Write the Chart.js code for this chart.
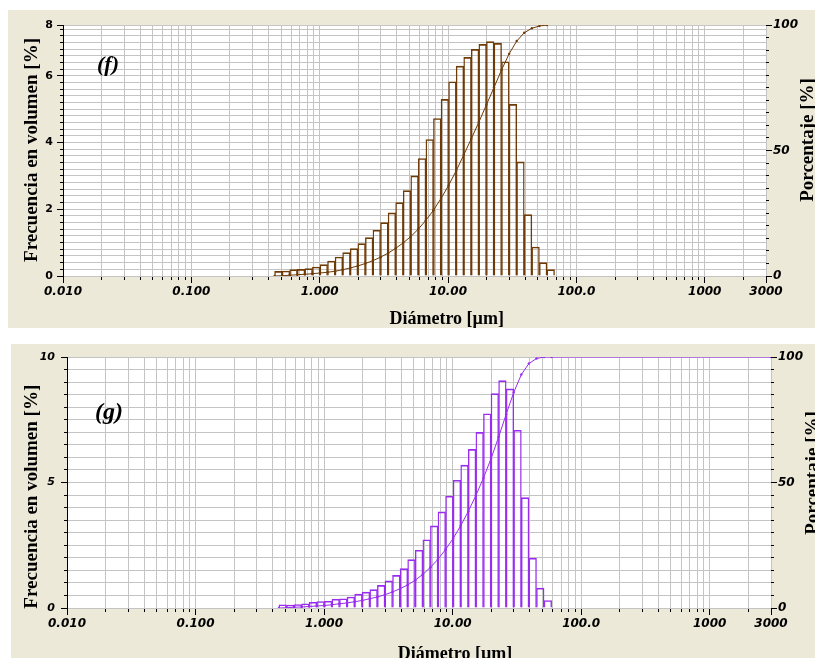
<!DOCTYPE html>
<html>
<head>
<meta charset="utf-8">
<script src="https://cdn.jsdelivr.net/npm/chart.js@4.4.1/dist/chart.umd.min.js"></script>
<style>
  html, body { margin: 0; padding: 0; background: #fff; }
  body { width: 815px; height: 658px; position: relative; overflow: hidden; }
  canvas { position: absolute; background: #ECE9D8; }
  #chartF { left: 8px; top: 10px; }
  #chartG { left: 11px; top: 344px; }
</style>
</head>
<body>
<canvas id="chartF" width="807" height="318"></canvas>
<canvas id="chartG" width="804" height="314"></canvas>
<script>
// bordes de canal (µm) - cada barra va de un borde al siguiente
const channelEdges = [0.445, 0.510, 0.584, 0.669, 0.766, 0.877, 1.005, 1.151, 1.318, 1.510,
    1.729, 1.981, 2.269, 2.599, 2.976, 3.409, 3.905, 4.472, 5.122, 5.867, 6.720, 7.697,
    8.816, 10.097, 11.565, 13.246, 15.172, 17.377, 19.904, 22.797, 26.111, 29.907, 34.255,
    39.234, 44.938, 51.471, 58.953, 67.523];

// (f) frecuencia en volumen [%]
const freqF = [0.14, 0.15, 0.19, 0.20, 0.22, 0.27, 0.34, 0.45, 0.57, 0.70, 0.82, 0.97, 1.15,
    1.37, 1.60, 1.89, 2.20, 2.56, 3.00, 3.52, 4.09, 4.72, 5.29, 5.82, 6.29, 6.55, 6.79, 6.94,
    7.02, 6.97, 6.42, 5.14, 3.42, 1.84, 0.87, 0.40, 0.19];
// (f) porcentaje acumulado [%] en cada borde
const cumF = [0, 0.1, 0.3, 0.5, 0.7, 0.9, 1.2, 1.5, 1.9, 2.5, 3.2, 4.0, 5.0, 6.1, 7.5, 9.1,
    11.0, 13.2, 15.7, 18.7, 22.2, 26.2, 30.9, 36.1, 41.9, 48.2, 54.7, 61.3, 68.2, 75.1, 82.1,
    88.5, 93.6, 96.9, 98.7, 99.6, 100];

// (g)
const freqG = [0.13, 0.12, 0.14, 0.17, 0.23, 0.26, 0.27, 0.35, 0.37, 0.44, 0.55, 0.63, 0.73,
    0.90, 1.08, 1.30, 1.57, 1.93, 2.30, 2.72, 3.27, 3.83, 4.46, 5.09, 5.69, 6.32, 7.00, 7.74,
    8.54, 9.06, 8.73, 7.08, 4.40, 1.99, 0.79, 0.30];
const cumG = [0, 0.1, 0.3, 0.4, 0.6, 0.8, 1.0, 1.3, 1.7, 2.0, 2.5, 3.0, 3.7, 4.4, 5.3, 6.4,
    7.7, 9.2, 11.1, 13.4, 16.2, 19.4, 23.3, 27.7, 32.8, 38.5, 44.8, 51.8, 59.5, 68.1, 77.2,
    85.9, 93.0, 97.4, 99.4, 100, 100];
// (g) the curve stays at 100 until the end of the axis
const cumGEndSize = 3000;
const cumGEndValue = 100;

const xTickValues = [0.01, 0.1, 1, 10, 100, 1000, 3000];
const xTickLabels = ['0.010', '0.100', '1.000', '10.00', '100.0', '1000', '3000'];
const yTickValuesF = [0, 2, 4, 6, 7.52];
const yTickLabelsF = ['0', '2', '4', '6', '8'];
const yTickValuesG = [0, 5, 10];
const yTickLabelsG = ['0', '5', '10'];
const rTickValues = [0, 50, 100];
const rTickLabels = ['0', '50', '100'];

const gridColor = '#c4c4c4';
const near = (a, b) => Math.abs(a - b) < 1e-6 * Math.max(1, Math.abs(b));
const labelOf = (vals, labels, v) => {
    const k = vals.findIndex(t => near(t, v));
    return k >= 0 ? labels[k] : '';
};

// vertical grid lines: 1..9 of every decade, then 1000, 2000, 3000
const xGrid = [];
for (let e = -2; e <= 2; e++) {
    for (let m = 1; m <= 9; m++) xGrid.push(Number((m * Math.pow(10, e)).toPrecision(6)));
}
xGrid.push(1000, 2000, 3000);

function gridValues(step, max) {
    const vals = [];
    for (let k = 0; k * step < max - 1e-9; k++) vals.push(Math.round(k * step * 1000) / 1000);
    vals.push(max);
    return vals;
}

const tickFont = { family: 'DejaVu Sans', size: 12, weight: 'bold', style: 'italic' };

// white plot area + titles
const frame = {
    id: 'frame',
    beforeDraw(chart) {
        const { ctx, chartArea: a } = chart;
        ctx.save();
        ctx.fillStyle = '#fff';
        ctx.fillRect(a.left, a.top, a.right - a.left, a.bottom - a.top);
        ctx.restore();
    },
    afterDraw(chart, args, o) {
        const ctx = chart.ctx;
        ctx.save();
        ctx.fillStyle = '#000';
        ctx.textAlign = 'center';
        ctx.textBaseline = 'alphabetic';
        ctx.font = 'bold 18px "Liberation Serif"';
        ctx.fillText('Diámetro [µm]', o.xTitle[0], o.xTitle[1]);
        ctx.font = 'bold 19px "Liberation Serif"';
        [['Frecuencia en volumen [%]', o.yTitle], ['Porcentaje [%]', o.rTitle]].forEach(([txt, p]) => {
            ctx.save();
            ctx.translate(p[0], p[1]);
            ctx.rotate(-Math.PI / 2);
            ctx.fillText(txt, 0, 0);
            ctx.restore();
        });
        ctx.font = 'italic bold ' + o.letterSize + 'px "Liberation Serif"';
        ctx.fillText(o.letter, o.letterPos[0], o.letterPos[1]);
        ctx.restore();
    }
};

function drawPanel(id, p) {
    const bars = p.freq.map((f, i) => ({ x: Math.sqrt(channelEdges[i] * channelEdges[i + 1]), y: f }));
    const curve = p.cum.map((c, i) => ({ x: channelEdges[i], y: c }));
    if (p.end) curve.push(p.end);
    const yGrid = gridValues(p.yStep, p.yMax);
    const rGrid = gridValues(5, 100);

    return new Chart(document.getElementById(id), {
        type: 'bar',
        data: {
            datasets: [{
                type: 'line',
                data: curve,
                yAxisID: 'y1',
                borderColor: p.color,
                borderWidth: 1,
                pointRadius: 1.2,
                pointBorderWidth: 0,
                pointBackgroundColor: p.color,
                tension: 0
            }, {
                type: 'bar',
                data: bars,
                yAxisID: 'y',
                borderColor: p.color,
                backgroundColor: 'rgba(0,0,0,0)',
                borderWidth: { top: 1, left: 0.75, right: 0.75, bottom: 0 },
                barThickness: 'flex',
                barPercentage: 1,
                categoryPercentage: 1
            }]
        },
        options: {
            responsive: false,
            animation: false,
            devicePixelRatio: 1,
            events: [],
            datasets: { bar: { barThickness: 'flex', barPercentage: 1, categoryPercentage: 1 } },
            layout: { padding: { top: p.padTop, left: 0, right: 0, bottom: 0 } },
            plugins: {
                legend: { display: false },
                tooltip: { enabled: false },
                frame: p.text
            },
            scales: {
                x: {
                    type: 'logarithmic',
                    position: 'bottom',
                    min: 0.01,
                    max: 3000,
                    offset: false,
                    afterBuildTicks: s => { s.ticks = xGrid.map(v => ({ value: v })); },
                    afterFit: s => { s.height = p.xHeight; },
                    grid: {
                        offset: false,
                        color: gridColor,
                        tickColor: '#000',
                        tickLength: 7,
                        tickBorderDash: c => labelOf(xTickValues, xTickLabels, c.tick.value) ? [] : [4, 20]
                    },
                    border: { display: false },
                    ticks: {
                        autoSkip: false,
                        maxRotation: 0,
                        padding: 2,
                        color: '#000',
                        font: tickFont,
                        callback: (v, i, t) => labelOf(xTickValues, xTickLabels, t[i].value)
                    }
                },
                y: {
                    type: 'linear',
                    position: 'left',
                    min: 0,
                    max: p.yMax,
                    afterBuildTicks: s => { s.ticks = yGrid.map(v => ({ value: v })); },
                    afterFit: s => { s.width = p.yWidth; },
                    grid: {
                        color: gridColor,
                        tickColor: '#000',
                        tickLength: 6,
                        tickBorderDash: c => labelOf(p.yTicks, p.yLabels, c.tick.value) ? [] : [0, 3, 3, 0]
                    },
                    border: { display: true, color: '#000', width: 1 },
                    ticks: {
                        autoSkip: false,
                        padding: p.yPad,
                        color: '#000',
                        font: { family: 'DejaVu Sans', size: 11, weight: 'bold', style: p.yStyle },
                        callback: (v, i, t) => labelOf(p.yTicks, p.yLabels, t[i].value)
                    }
                },
                y1: {
                    type: 'linear',
                    position: 'right',
                    min: 0,
                    max: 100,
                    afterBuildTicks: s => { s.ticks = rGrid.map(v => ({ value: v })); },
                    afterFit: s => { s.width = p.rWidth; },
                    grid: {
                        drawOnChartArea: false,
                        tickColor: '#000',
                        tickLength: 6,
                        tickBorderDash: c => labelOf(rTickValues, rTickLabels, c.tick.value) ? [] : [3, 10]
                    },
                    border: { display: false },
                    ticks: {
                        autoSkip: false,
                        padding: 1,
                        color: '#000',
                        font: tickFont,
                        callback: (v, i, t) => labelOf(rTickValues, rTickLabels, t[i].value)
                    }
                }
            }
        },
        plugins: [frame]
    });
}

//panel f
drawPanel('chartF', {
    freq: freqF, cum: cumF, end: null, color: '#6e3a06',
    yMax: 7.52, yStep: 0.2, yTicks: yTickValuesF, yLabels: yTickLabelsF, yStyle: 'normal', yPad: 4,
    padTop: 15, yWidth: 55, rWidth: 49, xHeight: 52,
    text: { xTitle: [438.7, 314], yTitle: [28.7, 140], rTitle: [805, 130], letter: '(f)', letterSize: 22, letterPos: [100, 61] }
});

//panel g
drawPanel('chartG', {
    freq: freqG, cum: cumG, end: { x: cumGEndSize, y: cumGEndValue }, color: '#9a2cf0',
    yMax: 10, yStep: 0.5, yTicks: yTickValuesG, yLabels: yTickLabelsG, yStyle: 'italic', yPad: 6,
    padTop: 13, yWidth: 56, rWidth: 44, xHeight: 50,
    text: { xTitle: [444, 315], yTitle: [25.7, 152.7], rTitle: [807, 129], letter: '(g)', letterSize: 24, letterPos: [98, 75] }
});
</script>
</body>
</html>
